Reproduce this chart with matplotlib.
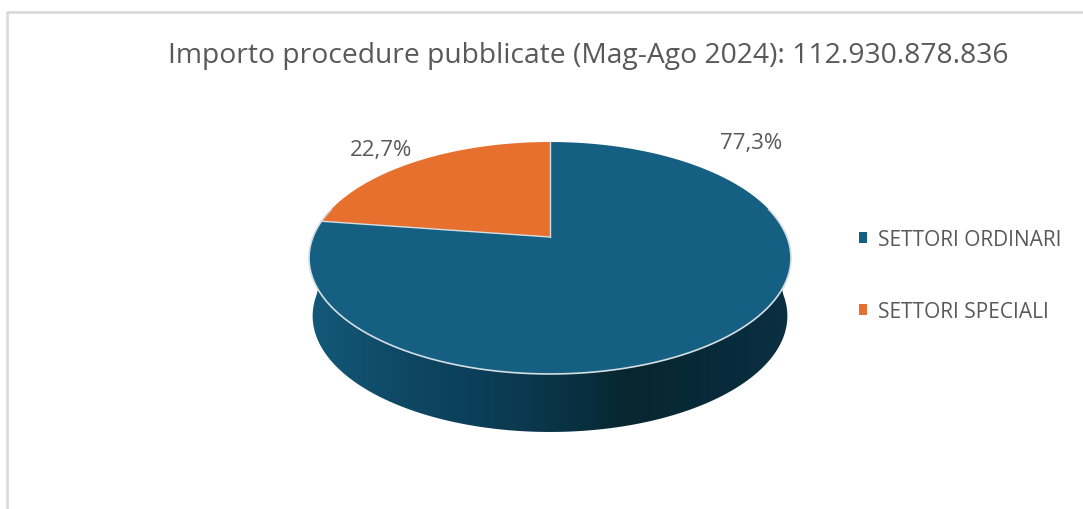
import matplotlib
matplotlib.use("Agg")
import matplotlib.pyplot as plt
from matplotlib.colors import LinearSegmentedColormap
from matplotlib.patches import Patch, Polygon
import numpy as np

title = "Importo procedure pubblicate (Mag-Ago 2024): 112.930.878.836"
categories = ["SETTORI ORDINARI", "SETTORI SPECIALI"]
values = [77.3, 22.7]
colors = ["#156082", "#E8702E"]

plt.rcParams["font.family"] = ["Open Sans", "DejaVu Sans"]
GREY = "#595959"

# pie geometry in pixels, the axes below use the picture's pixels
CX, CY = 550, 238
RX, RY, TILT = 237, 69.1, 0.181
DEPTH = 58


def project(angle):
    # angle in degrees clockwise from 12 o'clock, perspective of the flat disc
    a = np.radians(angle)
    x = np.sin(a)
    y = np.cos(a)
    d = 1 + TILT * y
    return CX + RX * x / d, (CY - RY * y) / d


def ring(start, end, n=300):
    t = np.linspace(start, end, n)
    return np.column_stack(project(t))


fig = plt.figure(figsize=(10.83, 5.10), dpi=100)
ax = fig.add_axes([0, 0, 1, 1])

# side of the pie, with the shading from left to right
front_top = ring(70, 290)
lower = ring(90, 270)
lower[:, 0] = CX + (lower[:, 0] - CX) * 0.985
lower[:, 1] += DEPTH
side = Polygon(np.vstack([front_top, lower[::-1]]), closed=True, facecolor="none", edgecolor="none")
ax.add_patch(side)
side_cmap = LinearSegmentedColormap.from_list(
    "side", ["#14597A", "#0F4A66", "#0C3F59", "#0A3549", "#07262F", "#082A39", "#0A3042"]
)
img = ax.imshow(
    np.linspace(0, 1, 256).reshape(1, -1),
    cmap=side_cmap,
    extent=[front_top[:, 0].min(), front_top[:, 0].max(), CY + 210, CY - 10],
    aspect="auto",
)
img.set_clip_path(side)

# top of the pie, slices follow the values clockwise from 12 o'clock
angles = np.cumsum([0] + values) / sum(values) * 360
for i, color in enumerate(colors):
    pts = np.vstack([[CX, CY], ring(angles[i], angles[i + 1])])
    ax.add_patch(Polygon(pts, closed=True, facecolor=color, edgecolor="none"))

# light rim only on the front and between the slices
rim = ring(75, 285)
ax.plot(rim[:, 0], rim[:, 1], color="#D5DEE3", linewidth=1.2)
for a in angles[:-1]:
    ex, ey = project(a)
    ax.plot([CX, ex], [CY, ey], color="#D5DEE3", linewidth=1.0)

# data labels
label_pos = [(751, 144), (381, 151)]
for v, (lx, ly) in zip(values, label_pos):
    ax.text(lx, ly, f"{v:.1f}%".replace(".", ","), color=GREY, fontsize=16,
            ha="center", va="center")

ax.text(588, 56, title, color=GREY, fontsize=20.3, ha="center", va="center")

# frame of the original chart, only top and left are in the crop
ax.plot([7, 7, 1083], [510, 13, 13], color="#DADADA", linewidth=2)

handles = [Patch(facecolor=c, edgecolor="none") for c in colors]
ax.legend(
    handles, categories, loc="center left", bbox_to_anchor=(859 / 1083, 1 - 276.5 / 510),
    frameon=False, fontsize=15, labelcolor=GREY, handlelength=0.4, handleheight=0.4,
    handletextpad=0.5, labelspacing=2.45, borderpad=0, borderaxespad=0,
)

ax.set_xlim(0, 1083)
ax.set_ylim(510, 0)
ax.axis("off")
fig.savefig("out.png", dpi=100, facecolor="white")
